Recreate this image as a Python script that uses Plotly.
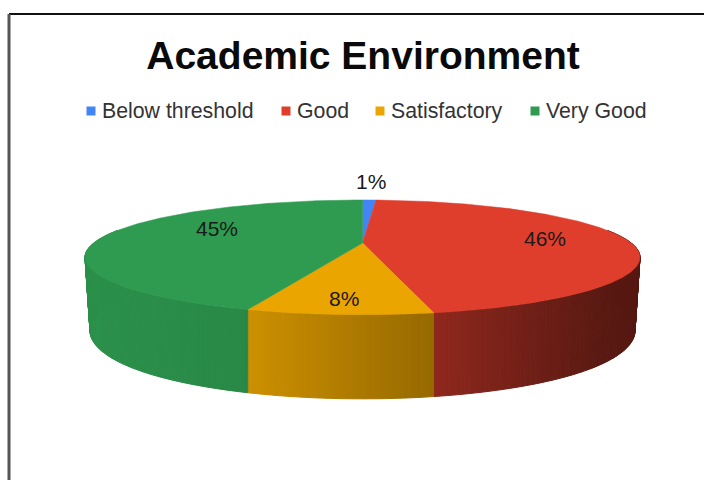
import numpy as np
import plotly.graph_objects as go

categories = ["Below threshold", "Good", "Satisfactory", "Very Good"]
shares = [1.0, 45.8, 8.49, 44.71]
colors = ["#4285F4", "#E03E2D", "#EBA500", "#2E9B50"]

W, H = 704, 480
CX = 362.5
K = 0.25
TOP = dict(a=268.7, b=53.8, y=243.0, taper=0.0)
BOT = dict(a=268.7, b=64.0, y=313.5, taper=0.018)

def project(theta, r, p):
    u, v = np.sin(theta) * r, np.cos(theta) * r
    d = 1 + K * v
    dx = p["a"] * u / d
    dx = dx * (1 - p["taper"] * (dx / 277.5) ** 4)
    return CX + dx, p["y"] - p["b"] * v / d

def shade(x):
    t = (x - 85) / 555
    return np.interp(t, [0, .28, .625, .93, 1], [.93, .88, .64, .40, .38])

def rgb(hex_color, f):
    c = [int(hex_color[i:i + 2], 16) for i in (1, 3, 5)]
    return "rgb(%d,%d,%d)" % tuple(int(round(v * f)) for v in c)

edges = np.concatenate([[0], np.cumsum(shares)]) / sum(shares) * 2 * np.pi
fig = go.Figure()

# side wall
for i, col in enumerate(colors):
    lo, hi = max(edges[i], np.pi * .42), min(edges[i + 1], np.pi * 1.58)
    if hi <= lo:
        continue
    n = max(2, int((hi - lo) / 0.012))
    th = np.linspace(lo, hi, n + 1)
    for a, b in zip(th[:-1], th[1:]):
        pair = np.array([a, b])
        x1, y1 = project(pair, 1, TOP)
        x2, y2 = project(pair[::-1], 1, BOT)
        c = rgb(col, shade((x1[0] + x1[1]) / 2))
        fig.add_trace(go.Scatter(
            x=list(x1) + list(x2) + [x1[0]], y=list(y1) + list(y2) + [y1[0]],
            mode="lines", fill="toself", fillcolor=c, line=dict(color=c, width=1),
            hoverinfo="skip", showlegend=False))

# top face
for i, col in enumerate(colors):
    th = np.linspace(edges[i], edges[i + 1], max(3, int((edges[i + 1] - edges[i]) / 0.01)))
    x, y = project(th, 1, TOP)
    fig.add_trace(go.Scatter(
        x=[CX] + list(x) + [CX], y=[TOP["y"]] + list(y) + [TOP["y"]],
        mode="lines", fill="toself", fillcolor=col, line=dict(color=col, width=0.5),
        name=categories[i], hoverinfo="skip", showlegend=False))

# legend row
legend_mark_x = [91, 286, 380, 535]
for name, col, mx in zip(categories, colors, legend_mark_x):
    fig.add_trace(go.Scatter(
        x=[mx], y=[111], mode="markers", marker=dict(symbol="square", size=9, color=col),
        hoverinfo="skip", showlegend=False))
    fig.add_annotation(x=mx + 9, y=111, text=name, showarrow=False, xanchor="left", yanchor="middle",
                       font=dict(family="Liberation Sans", size=21.3, color="#333333"))

# percentage labels, placed from each slice's mid-angle
label_radius = [1.38, 0.69, 0.82, 0.56]
label_raise = [6, 2, 0, 10]
for i, s in enumerate(shares):
    mid = (edges[i] + edges[i + 1]) / 2
    lx, ly = project(mid, label_radius[i], TOP)
    fig.add_annotation(x=float(lx), y=float(ly), yshift=label_raise[i], text="%d%%" % round(s),
                       showarrow=False, xanchor="center", yanchor="middle",
                       font=dict(family="Liberation Sans", size=21, color="#1a1a1a"))

fig.update_layout(
    width=W, height=H, margin=dict(l=0, r=0, t=0, b=0),
    paper_bgcolor="white", plot_bgcolor="white", showlegend=False,
    title=dict(text="<b>Academic Environment</b>", x=363 / W, xanchor="center", y=1 - 55 / H, yanchor="middle",
               font=dict(family="Liberation Sans", size=39, color="#0a0a0a")),
    xaxis=dict(range=[0, W], visible=False, fixedrange=True),
    yaxis=dict(range=[H, 0], visible=False, fixedrange=True),
    shapes=[
        dict(type="line", xref="x", yref="y", x0=9, x1=W, y0=14, y1=14, line=dict(color="#111111", width=2)),
        dict(type="line", xref="x", yref="y", x0=9, x1=9, y0=14, y1=H, line=dict(color="#555555", width=3)),
    ],
)
fig.write_html("out.html", config={"displayModeBar": False},
               post_script="document.body.style.margin='0';document.body.style.overflow='hidden';")
